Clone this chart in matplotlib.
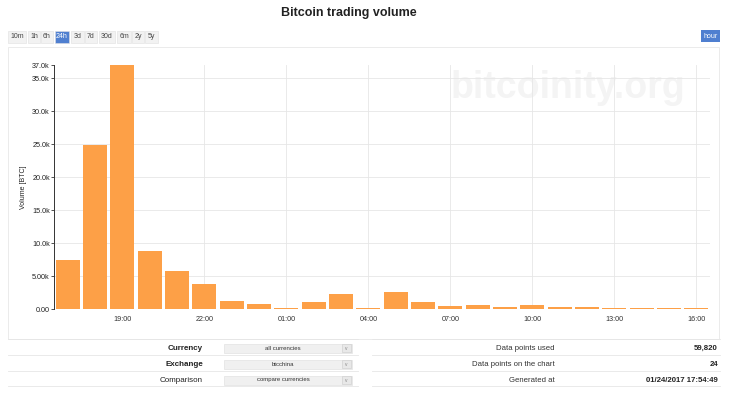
import matplotlib
matplotlib.use('Agg')
import matplotlib.pyplot as plt
from matplotlib.patches import Rectangle
import numpy as np

plt.rcParams['font.family'] = ['Liberation Sans', 'DejaVu Sans']

# hourly volume in BTC, last 24h starting 17:00
hours = ['17:00', '18:00', '19:00', '20:00', '21:00', '22:00', '23:00', '00:00',
         '01:00', '02:00', '03:00', '04:00', '05:00', '06:00', '07:00', '08:00',
         '09:00', '10:00', '11:00', '12:00', '13:00', '14:00', '15:00', '16:00']
volume = [7500, 24900, 37000, 8750, 5700, 3800, 1200, 800,
          100, 1050, 2300, 150, 2650, 1000, 400, 550,
          300, 600, 350, 300, 80, 100, 100, 120]
y_ticks = [0, 5000, 10000, 15000, 20000, 25000, 30000, 35000, 37000]
y_tick_labels = ['0.00', '5.00k', '10.0k', '15.0k', '20.0k', '25.0k', '30.0k', '35.0k', '37.0k']
ranges = ['10m', '1h', '6h', '24h', '3d', '7d', '30d', '6m', '2y', '5y']
left_rows = [('Currency', 'all currencies', True), ('Exchange', 'btcchina', True),
             ('Comparison', 'compare currencies', False)]
right_rows = [('Data points used', '59,820'), ('Data points on the chart', '24'),
              ('Generated at', '01/24/2017 17:54:49')]

W, H = 731, 398


def fx(x):
    return x / W


def fy(y):
    return 1 - y / H


fig = plt.figure(figsize=(W / 100, H / 100), dpi=100)

# title
fig.text(fx(349), fy(13), 'Bitcoin trading volume', ha='center', va='center',
         fontsize=9, fontweight='bold', color='#222222')

# range buttons
btn_x = [8, 28, 41, 55, 71, 85, 99, 117, 132, 145]
btn_w = [18, 12, 12, 14, 13, 12, 16, 14, 12, 13]
for lbl, x0, w in zip(ranges, btn_x, btn_w):
    active = lbl == '24h'
    fig.add_artist(Rectangle((fx(x0), fy(43)), w / W, 12 / H, transform=fig.transFigure,
                             facecolor='#4f7fd0' if active else '#f2f2f2',
                             edgecolor='#e0e0e0', linewidth=0.4))
    fig.text(fx(x0 + w / 2), fy(37), lbl, ha='center', va='center', fontsize=5,
             color='white' if active else '#444444')
fig.add_artist(Rectangle((fx(701), fy(42)), 19 / W, 12 / H, transform=fig.transFigure,
                         facecolor='#4f7fd0', edgecolor='none'))
fig.text(fx(710.5), fy(36), 'hour', ha='center', va='center', fontsize=5, color='white')

# panel border
fig.add_artist(Rectangle((fx(8), fy(339)), 711 / W, 292 / H, transform=fig.transFigure,
                         facecolor='none', edgecolor='#e8e8e8', linewidth=0.6))

ax = fig.add_axes([fx(54), fy(309), (710 - 54) / W, (309 - 65) / H])
ax.set_facecolor('none')
x = np.arange(len(volume))
ax.bar(x, volume, width=0.88, color='#fda047', zorder=2)
ax.set_xlim(-0.5, len(volume) - 0.5)
ax.set_ylim(0, 37000)

tick_idx = list(range(2, len(hours), 3))
ax.set_xticks(tick_idx)
ax.set_xticklabels([hours[i] for i in tick_idx], fontsize=5.2, color='#333333')
ax.set_yticks(y_ticks)
ax.set_yticklabels(y_tick_labels, fontsize=5.2, color='#222222')
ax.tick_params(axis='x', length=0, pad=5)
ax.tick_params(axis='y', length=2, width=0.6, pad=1, color='#333333')
ax.set_axisbelow(True)
ax.grid(True, color='#e6e6e6', linewidth=0.6)
ax.yaxis.get_gridlines()[-1].set_visible(False)
for s in ['top', 'right', 'bottom']:
    ax.spines[s].set_visible(False)
ax.spines['left'].set_color('#333333')
ax.spines['left'].set_linewidth(0.7)
ax.set_ylabel('Volume [BTC]', fontsize=5, color='#222222', labelpad=4)

# watermark
fig.text(fx(568), fy(88), 'bitcoinity.org', ha='center', va='center', fontsize=27,
         fontweight='bold', color='#f4f4f4', zorder=-1)

# bottom table
for yl in [339, 355, 371, 386]:
    fig.add_artist(plt.Line2D([fx(8), fx(358)], [fy(yl), fy(yl)], color='#e6e6e6', linewidth=0.6))
    fig.add_artist(plt.Line2D([fx(372), fx(720)], [fy(yl), fy(yl)], color='#e6e6e6', linewidth=0.6))

row_y = [348, 364, 380]
for (lbl, val, bold), yc in zip(left_rows, row_y):
    fig.text(fx(203), fy(yc), lbl, ha='right', va='center', fontsize=5.8,
             fontweight='bold' if bold else 'normal', color='#222222')
    fig.add_artist(Rectangle((fx(224), fy(yc + 4.5)), 128 / W, 9 / H, transform=fig.transFigure,
                             facecolor='#f0f0f0', edgecolor='#dddddd', linewidth=0.4))
    fig.add_artist(Rectangle((fx(342), fy(yc + 4)), 9 / W, 8 / H, transform=fig.transFigure,
                             facecolor='#e8e8e8', edgecolor='#cccccc', linewidth=0.4))
    fig.text(fx(342.5 + 4), fy(yc), 'v', ha='center', va='center', fontsize=3.5, color='#888888')
    fig.text(fx(283), fy(yc), val, ha='center', va='center', fontsize=4.3, color='#333333')

for (lbl, val), yc in zip(right_rows, row_y):
    fig.text(fx(555), fy(yc), lbl, ha='right', va='center', fontsize=5.6, color='#333333')
    fig.text(fx(718), fy(yc), val, ha='right', va='center', fontsize=5.6,
             fontweight='bold', color='#222222')

fig.savefig('out.png', dpi=100)
